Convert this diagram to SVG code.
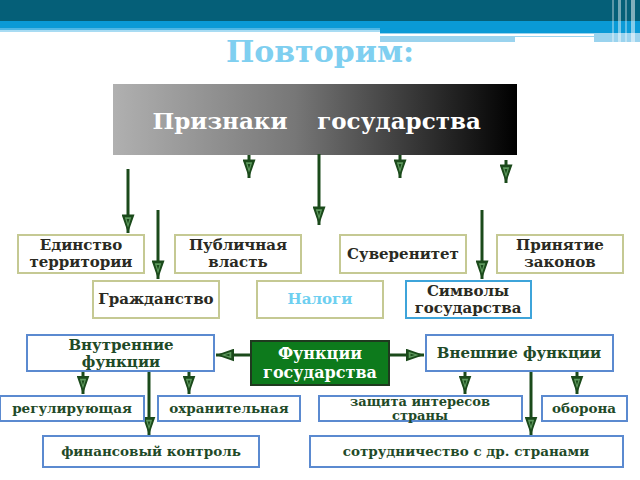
<svg xmlns="http://www.w3.org/2000/svg" width="640" height="480" viewBox="0 0 640 480">
<defs>
<linearGradient id="hdr" x1="0" y1="0" x2="1" y2="0">
<stop offset="0" stop-color="#b0b0b0"/>
<stop offset="0.45" stop-color="#777777"/>
<stop offset="1" stop-color="#000000"/>
</linearGradient>
<marker id="ah" viewBox="0 0 20 14" refX="20" refY="7" markerWidth="20" markerHeight="13" markerUnits="userSpaceOnUse" orient="auto">
<path d="M0,0 L20,7 L0,14 Z" fill="#1b4a1b"/>
<path d="M3,3.5 L14,7 L3,10.5 Z" fill="#5e9a5e"/>
<path d="M5,5.5 L10,7 L5,8.5 Z" fill="#1b4a1b"/>
</marker>
<marker id="ahs" viewBox="0 0 20 14" refX="20" refY="7" markerWidth="18" markerHeight="13" markerUnits="userSpaceOnUse" orient="auto">
<path d="M0,0 L20,7 L0,14 Z" fill="#1b4a1b"/>
<path d="M3,3.5 L14,7 L3,10.5 Z" fill="#5e9a5e"/>
<path d="M5,5.5 L10,7 L5,8.5 Z" fill="#1b4a1b"/>
</marker>
</defs>
<style>
text{font-family:'DejaVu Serif','Liberation Serif',serif;font-weight:700;text-anchor:middle}
.b1{fill:#ffffff;stroke:#c5c993;stroke-width:2}
.b2{fill:#ffffff;stroke:#5b8ad0;stroke-width:2}
.b3{fill:#ffffff;stroke:#3ea4da;stroke-width:2}
.t1{fill:#2a2a22;font-size:15px}
.t2{fill:#1f4a28;font-size:13.5px}
.ln{stroke:#1b4a1b;stroke-width:3;fill:none}
</style>
<rect width="640" height="480" fill="#ffffff"/>
<g id="header">
<rect x="0" y="0" width="640" height="21" fill="#055f78"/>
<rect x="0" y="21" width="640" height="7" fill="#0a9ad6"/>
<rect x="0" y="28" width="380" height="2" fill="#4eb6e4"/>
<rect x="0" y="30" width="380" height="2" fill="#a9dcf3"/>
<rect x="380" y="28" width="260" height="5" fill="#0a9ad6"/>
<rect x="380" y="33" width="260" height="9" fill="#9ad3ee"/>
<rect x="380" y="34" width="214" height="2" fill="#ffffff"/>
<rect x="515" y="37" width="79" height="5" fill="#ffffff"/>
<rect x="612" y="0" width="2" height="44" fill="#ffffff" opacity="0.35"/>
<rect x="618" y="0" width="3" height="44" fill="#ffffff" opacity="0.45"/>
<rect x="625" y="0" width="2" height="44" fill="#ffffff" opacity="0.35"/>
<rect x="631" y="0" width="4" height="44" fill="#ffffff" opacity="0.5"/>
</g>
<text x="320" y="62" style="fill:#7fcff0;font-size:30px">Повторим:</text>
<g id="priznaki">
<rect x="113" y="84" width="404" height="71" fill="url(#hdr)"/>
<text x="220" y="129" style="fill:#ffffff;font-size:23px">Признаки</text>
<text x="399" y="129" style="fill:#ffffff;font-size:23px">государства</text>
</g>
<g id="connectors">
<line class="ln" x1="128" y1="169" x2="128" y2="233" marker-end="url(#ah)"/>
<line class="ln" x1="158" y1="210" x2="158" y2="279" marker-end="url(#ah)"/>
<line class="ln" x1="249" y1="155" x2="249" y2="178" marker-end="url(#ah)"/>
<line class="ln" x1="319" y1="154" x2="319" y2="225" marker-end="url(#ah)"/>
<line class="ln" x1="400" y1="155" x2="400" y2="178" marker-end="url(#ah)"/>
<line class="ln" x1="506" y1="160" x2="506" y2="183" marker-end="url(#ah)"/>
<line class="ln" x1="482" y1="210" x2="482" y2="279" marker-end="url(#ah)"/>
<line class="ln" x1="251" y1="355" x2="216" y2="355" marker-end="url(#ahs)"/>
<line class="ln" x1="389" y1="355" x2="424" y2="355" marker-end="url(#ahs)"/>
<line class="ln" x1="83" y1="372" x2="83" y2="394" marker-end="url(#ahs)"/>
<line class="ln" x1="189" y1="372" x2="189" y2="394" marker-end="url(#ahs)"/>
<line class="ln" x1="149" y1="372" x2="149" y2="435" marker-end="url(#ahs)"/>
<line class="ln" x1="465" y1="372" x2="465" y2="394" marker-end="url(#ahs)"/>
<line class="ln" x1="577" y1="372" x2="577" y2="394" marker-end="url(#ahs)"/>
<line class="ln" x1="531" y1="372" x2="531" y2="435" marker-end="url(#ahs)"/>
</g>
<g id="edinstvo"><rect class="b1" x="18" y="235" width="126" height="38"/><text class="t1" x="81" y="250">Единство</text><text class="t1" x="81" y="267">территории</text></g>
<g id="publichnaya"><rect class="b1" x="175" y="235" width="126" height="38"/><text class="t1" x="238" y="250">Публичная</text><text class="t1" x="238" y="267">власть</text></g>
<g id="suverenitet"><rect class="b1" x="340" y="235" width="126" height="38"/><text class="t1" x="403" y="259">Суверенитет</text></g>
<g id="prinyatie"><rect class="b1" x="497" y="235" width="126" height="38"/><text class="t1" x="560" y="250">Принятие</text><text class="t1" x="560" y="267">законов</text></g>
<g id="grazhdanstvo"><rect class="b1" x="93" y="281" width="126" height="37"/><text class="t1" x="156" y="304">Гражданство</text></g>
<g id="nalogi"><rect class="b1" x="257" y="281" width="126" height="37"/><text class="t1" x="320" y="304" style="fill:#6ecff0">Налоги</text></g>
<g id="simvoly"><rect class="b3" x="406" y="281" width="125" height="37"/><text class="t1" x="468" y="296">Символы</text><text class="t1" x="468" y="313">государства</text></g>
<g id="funkcii"><rect x="251" y="341" width="138" height="44" fill="#0d7a1c" stroke="#1f3a1f" stroke-width="2"/><text x="320" y="359" style="fill:#ffffff;font-size:16px">Функции</text><text x="320" y="378" style="fill:#ffffff;font-size:16px">государства</text></g>
<g id="vnutrennie"><rect class="b2" x="27" y="335" width="187" height="36"/><text class="t2" x="121" y="350" style="font-size:15px">Внутренние</text><text class="t2" x="121" y="367" style="font-size:15px">функции</text></g>
<g id="vneshnie"><rect class="b2" x="426" y="335" width="187" height="36"/><text class="t2" x="519" y="358" style="font-size:15px">Внешние функции</text></g>
<g id="reguliruyushchaya"><rect class="b2" x="0" y="396" width="144" height="25"/><text class="t2" x="72" y="413">регулирующая</text></g>
<g id="okhranitelnaya"><rect class="b2" x="158" y="396" width="142" height="25"/><text class="t2" x="229" y="413">охранительная</text></g>
<g id="finansovyy"><rect class="b2" x="43" y="436" width="216" height="31"/><text class="t2" x="151" y="456">финансовый контроль</text></g>
<g id="zashchita"><rect class="b2" x="319" y="396" width="203" height="25"/><text class="t2" x="420" y="406" style="font-size:13px">защита интересов</text><text class="t2" x="420" y="420" style="font-size:13px">страны</text></g>
<g id="oborona"><rect class="b2" x="542" y="396" width="85" height="25"/><text class="t2" x="584" y="413">оборона</text></g>
<g id="sotrudnichestvo"><rect class="b2" x="310" y="436" width="313" height="31"/><text class="t2" x="466" y="456">сотрудничество с др. странами</text></g>
</svg>
